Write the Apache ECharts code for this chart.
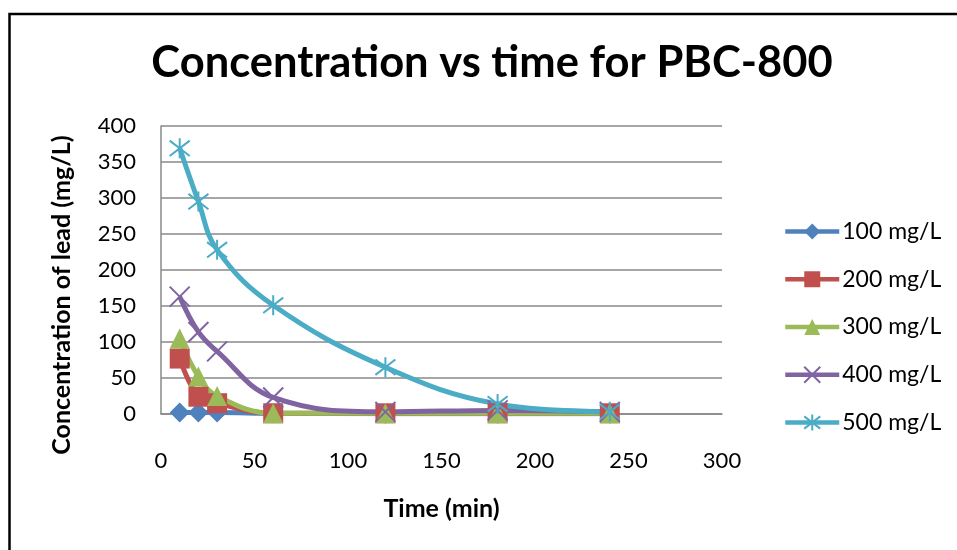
<!DOCTYPE html>
<html>
<head>
<meta charset="utf-8">
<script src="https://cdn.jsdelivr.net/npm/echarts@6/dist/echarts.min.js"></script>
<style>
  html, body { margin: 0; padding: 0; background: #fff; }
  #chart { width: 957px; height: 550px; }
</style>
</head>
<body>
<div id="chart"></div>
<script>
// Sampling times (min)
const times = [10, 20, 30, 60, 120, 180, 240];

// Lead concentration (mg/L) for each initial concentration
const seriesNames = ['100 mg/L', '200 mg/L', '300 mg/L', '400 mg/L', '500 mg/L'];
const c100 = [2, 2, 2, 1, 0.5, 0.5, 0.5];
const c200 = [77, 24, 15, 1, 1, 1, 1];
const c300 = [105, 52, 25, 1, 1, 1, 1];
const c400 = [163, 114, 87, 23, 3, 5, 3];
const c500 = [369, 295, 228, 151, 65, 14, 3];

// Axis ticks
const xTicks = { min: 0, max: 300, interval: 50 };
const yTicks = { min: 0, max: 400, interval: 50 };

const colors = ['#4F81BD', '#C0504D', '#9BBB59', '#8064A2', '#4BACC6'];
const symbols = [
  'diamond',
  'rect',
  'triangle',
  'path://M0,0L10,10M10,0L0,10',
  'path://M0,0L10,10M10,0L0,10M5,-1.5L5,11.5'
];
const allValues = [c100, c200, c300, c400, c500];

const FONT = 'Lato, "Open Sans", sans-serif';

const series = allValues.map((vals, i) => {
  const isStroke = i >= 3;
  return {
    name: seriesNames[i],
    type: 'line',
    data: times.map((t, k) => [t, vals[k]]),
    smooth: 0.4,
    symbol: symbols[i],
    symbolSize: 20,
    showAllSymbol: true,
    lineStyle: { color: colors[i], width: 5 },
    itemStyle: isStroke
      ? { color: 'rgba(0,0,0,0)', borderColor: colors[i], borderWidth: 2 }
      : { color: colors[i], borderWidth: 0 },
    emphasis: { disabled: true },
    animation: false
  };
});

const chart = echarts.init(document.getElementById('chart'), null, { renderer: 'canvas' });
chart.setOption({
  backgroundColor: '#ffffff',
  animation: false,
  color: colors,
  title: {
    text: 'Concentration vs time for PBC-800',
    left: 487,
    textAlign: 'center',
    top: 36,
    textStyle: { fontFamily: FONT, fontWeight: 'bold', fontSize: 43.5, color: '#000' }
  },
  grid: { left: 161, top: 126, width: 561, height: 288, containLabel: false },
  xAxis: {
    type: 'value',
    min: xTicks.min, max: xTicks.max, interval: xTicks.interval,
    name: 'Time (min)',
    nameLocation: 'middle',
    nameGap: 82,
    nameTextStyle: { fontFamily: FONT, fontWeight: 'bold', fontSize: 25, color: '#000' },
    axisLine: { show: true, lineStyle: { color: '#898989', width: 1.5 } },
    axisTick: { show: false },
    splitLine: { show: false },
    axisLabel: { margin: 36, fontFamily: FONT, fontSize: 22, color: '#000' }
  },
  yAxis: {
    type: 'value',
    min: yTicks.min, max: yTicks.max, interval: yTicks.interval,
    axisLine: { show: true, lineStyle: { color: '#898989', width: 1.5 } },
    axisTick: { show: false },
    splitLine: { show: true, lineStyle: { color: '#898989', width: 1.5 } },
    axisLabel: { margin: 25, fontFamily: FONT, fontSize: 22, color: '#000' }
  },
  legend: {
    orient: 'vertical',
    left: 783,
    top: 220,
    padding: 0,
    itemWidth: 54,
    itemHeight: 20,
    itemGap: 24.75,
    lineStyle: { width: 4.5 },
    textStyle: { fontFamily: FONT, fontSize: 23, color: '#000', padding: [0, 0, 0, -2] },
    data: seriesNames
  },
  graphic: [
    {
      // y-axis title, rotated
      type: 'text',
      x: 62,
      y: 295,
      rotation: Math.PI / 2,
      style: {
        text: 'Concentration of lead (mg/L)',
        fontFamily: FONT,
        fontWeight: 'bold',
        fontSize: 25,
        fill: '#000',
        align: 'center',
        verticalAlign: 'middle'
      },
      silent: true
    },
    {
      // outer chart frame
      type: 'rect',
      shape: { x: 9.5, y: 14, width: 1000, height: 600 },
      style: { fill: 'none', stroke: '#000', lineWidth: 2.5 },
      silent: true,
      z: 100
    }
  ],
  series: series
});
</script>
</body>
</html>
